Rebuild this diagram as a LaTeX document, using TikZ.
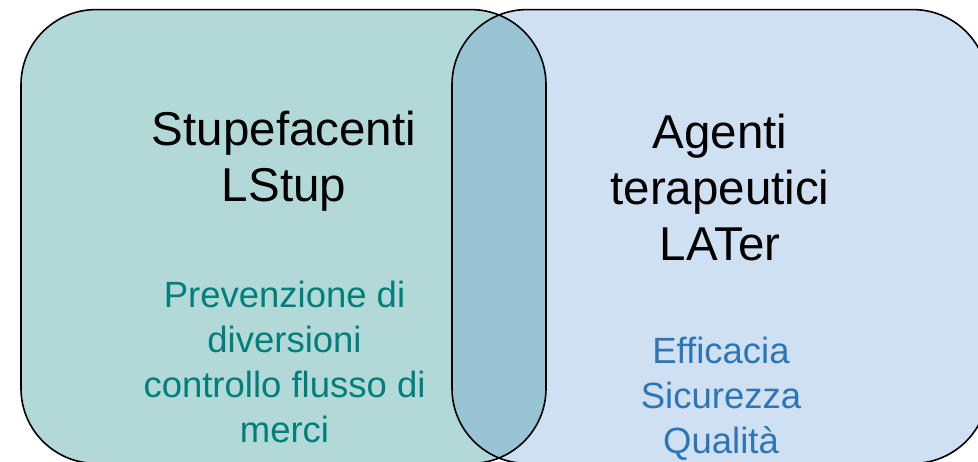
\documentclass[tikz,border=0pt]{standalone}
\usepackage{fontspec}
\setmainfont{Liberation Sans}
\definecolor{leftfill}{RGB}{178,216,216}
\definecolor{rightfill}{RGB}{206,224,241}
\definecolor{overlapfill}{RGB}{152,196,212}
\definecolor{tealtext}{RGB}{0,128,122}
\definecolor{bluetext}{RGB}{46,117,182}
\tikzset{
  outline/.style={draw=black, line width=1.6pt, rounded corners=75pt},
  titletext/.style={align=center, inner sep=0pt, anchor=base,
    font=\fontsize{47.5}{56}\selectfont},
  subtext/.style={align=center, inner sep=0pt, anchor=base,
    font=\fontsize{36.5}{45}\selectfont}
}
\begin{document}
\begin{tikzpicture}[x=1pt,y=1pt]
\useasboundingbox (0,0) rectangle (978,462);
\begin{scope}
\clip (0,0) rectangle (978,462);
\fill[leftfill, rounded corners=75pt] (21,-1.4) rectangle (546,452.4);
\fill[rightfill, rounded corners=75pt] (452,-1.4) rectangle (988,452.4);
\begin{scope}
\clip[rounded corners=75pt] (21,-1.4) rectangle (546,452.4);
\fill[overlapfill, rounded corners=75pt] (452,-1.4) rectangle (988,452.4);
\end{scope}
\draw[outline] (21,-1.4) rectangle (546,452.4);
\draw[outline] (452,-1.4) rectangle (988,452.4);
\end{scope}
\node[titletext] (lefttitle) at (284,260) {Stupefacenti\\LStup};
\node[titletext] (righttitle) at (720,201) {Agenti\\terapeutici\\LATer};
\node[subtext, text=tealtext] (leftsub) at (284.5,19) {Prevenzione di\\diversioni\\controllo flusso di\\merci};
\node[subtext, text=bluetext] (rightsub) at (721,8) {Efficacia\\Sicurezza\\Qualità};
\end{tikzpicture}
\end{document}
